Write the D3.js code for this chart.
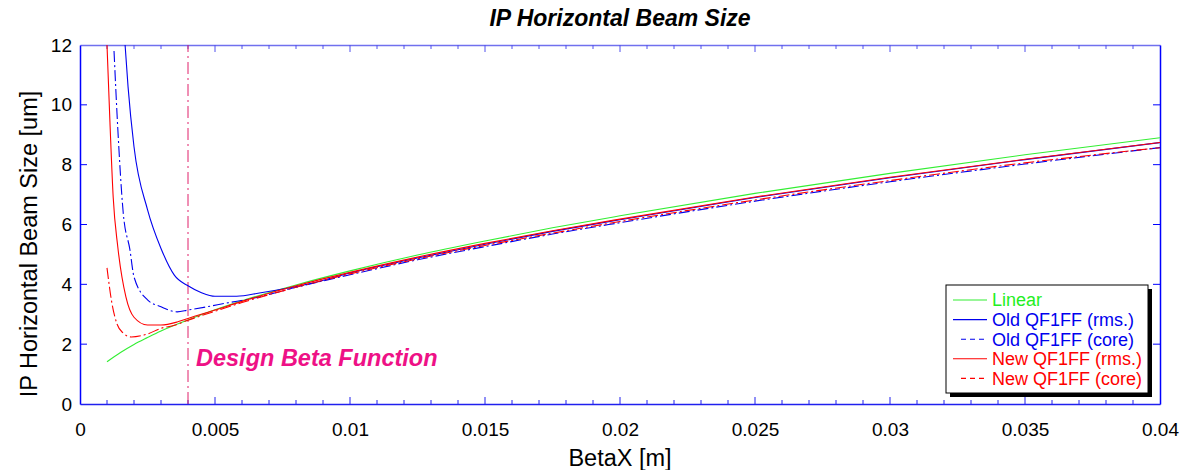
<!DOCTYPE html>
<html>
<head>
<meta charset="utf-8">
<script src="https://cdn.jsdelivr.net/npm/d3@7"></script>
<style>
  body { margin: 0; background: #fff; }
  svg { font-family: "Liberation Sans", Arial, sans-serif; }
</style>
</head>
<body>
<div id="chart"></div>
<script>
// Data (beta in m, beam size in um)
const linearBeta = [0.001, 0.0015, 0.002, 0.0025, 0.003, 0.004, 0.005, 0.006, 0.008, 0.01, 0.0125, 0.015, 0.0175, 0.02, 0.025, 0.03, 0.035, 0.04];
const linearSize = [1.41, 1.72, 1.99, 2.22, 2.44, 2.81, 3.15, 3.45, 3.98, 4.45, 4.98, 5.45, 5.89, 6.29, 7.04, 7.71, 8.33, 8.90];

const oldRmsBeta = [0.00167, 0.00178, 0.002, 0.0025, 0.003, 0.0035, 0.004, 0.0045, 0.005, 0.0058, 0.0067, 0.0085, 0.01, 0.0125, 0.015, 0.0175, 0.02, 0.025, 0.03, 0.035, 0.04];
const oldRmsSize = [12, 10.6, 8.6, 6.5, 5.2, 4.3, 3.95, 3.72, 3.6, 3.6, 3.72, 4.02, 4.38, 4.88, 5.34, 5.77, 6.16, 6.9, 7.56, 8.17, 8.74];

const oldCoreBeta = [0.00126, 0.0014, 0.0016, 0.00185, 0.002, 0.0025, 0.003, 0.0036, 0.004, 0.0047, 0.0054, 0.0065, 0.008, 0.01, 0.0125, 0.015, 0.0175, 0.02, 0.025, 0.03, 0.035, 0.04];
const oldCoreSize = [11.8, 9.2, 6.4, 5.15, 4.25, 3.48, 3.25, 3.08, 3.14, 3.25, 3.37, 3.55, 3.9, 4.32, 4.82, 5.26, 5.68, 6.06, 6.78, 7.43, 8.02, 8.57];

const newRmsBeta = [0.001, 0.00111, 0.00123, 0.0014, 0.0017, 0.002, 0.0025, 0.003, 0.0036, 0.004, 0.005, 0.006, 0.008, 0.01, 0.0125, 0.015, 0.0175, 0.02, 0.025, 0.03, 0.035, 0.04];
const newRmsSize = [12, 9.4, 6.9, 5.25, 3.58, 2.9, 2.64, 2.64, 2.74, 2.86, 3.14, 3.43, 3.95, 4.4, 4.91, 5.37, 5.79, 6.18, 6.92, 7.58, 8.18, 8.74];

const newCoreBeta = [0.001, 0.00118, 0.00136, 0.0016, 0.0019, 0.0025, 0.003, 0.0035, 0.004, 0.005, 0.006, 0.008, 0.01, 0.0125, 0.015, 0.0175, 0.02, 0.025, 0.03, 0.035, 0.04];
const newCoreSize = [4.55, 3.38, 2.7, 2.37, 2.24, 2.34, 2.53, 2.63, 2.8, 3.1, 3.39, 3.9, 4.35, 4.85, 5.3, 5.71, 6.1, 6.82, 7.47, 8.06, 8.57];

const designBeta = 0.004;

const xTickValues = [0, 0.005, 0.01, 0.015, 0.02, 0.025, 0.03, 0.035, 0.04];
const xTickLabels = ['0', '0.005', '0.01', '0.015', '0.02', '0.025', '0.03', '0.035', '0.04'];
const yTickValues = [0, 2, 4, 6, 8, 10, 12];

const series = [
    { name: 'Linear', beta: linearBeta, size: linearSize, color: '#33ee33', dash: null },
    { name: 'Old QF1FF (rms.)', beta: oldRmsBeta, size: oldRmsSize, color: '#0000ee', dash: null },
    { name: 'Old QF1FF (core)', beta: oldCoreBeta, size: oldCoreSize, color: '#0000ee', dash: '11,3,2,3' },
    { name: 'New QF1FF (rms.)', beta: newRmsBeta, size: newRmsSize, color: '#ff0000', dash: null },
    { name: 'New QF1FF (core)', beta: newCoreBeta, size: newCoreSize, color: '#ff0000', dash: '11,3,2,3' }
];

const width = 1180;
const height = 470;
const margin = { top: 45, right: 20, bottom: 66, left: 80 };

const svg = d3.select('#chart')
    .append('svg')
    .attr('width', width)
    .attr('height', height);

const x = d3.scaleLinear()
    .domain([0, 0.04])
    .range([margin.left, width - margin.right]);

const y = d3.scaleLinear()
    .domain([0, 12])
    .range([height - margin.bottom, margin.top]);

// Clip curves to the plot area
svg.append('clipPath')
    .attr('id', 'plotClip')
    .append('rect')
    .attr('x', x(0))
    .attr('y', y(12))
    .attr('width', x(0.04) - x(0))
    .attr('height', y(0) - y(12));

// Title
svg.append('text')
    .attr('x', 620)
    .attr('y', 26)
    .attr('text-anchor', 'middle')
    .style('font-size', '23px')
    .style('font-weight', 'bold')
    .style('font-style', 'italic')
    .text('IP Horizontal Beam Size');

// Axes (ticks inside, box all round)
const minorX = d3.range(0, 0.0401, 0.001);
const axisColor = '#2020ee';

const axBottom = svg.append('g')
    .attr('transform', `translate(0,${y(0)})`)
    .call(d3.axisBottom(x).tickValues(xTickValues).tickSize(0).tickPadding(19)
        .tickFormat((d, i) => xTickLabels[i]));
axBottom.select('.domain').attr('stroke', axisColor).attr('stroke-width', 1.5);
axBottom.selectAll('text').style('font-size', '19px').attr('fill', '#000');

const axTop = svg.append('g')
    .attr('transform', `translate(0,${y(12)})`)
    .call(d3.axisTop(x).tickValues([]).tickSize(0));
axTop.select('.domain').attr('stroke', '#7070ee').attr('stroke-width', 1.5);

const axLeft = svg.append('g')
    .attr('transform', `translate(${x(0)},0)`)
    .call(d3.axisLeft(y).tickValues(yTickValues).tickSize(0).tickPadding(8));
axLeft.select('.domain').attr('stroke', '#0000ff').attr('stroke-width', 1.5);
axLeft.selectAll('text').style('font-size', '19px').attr('fill', '#000');

const axRight = svg.append('g')
    .attr('transform', `translate(${x(0.04)},0)`)
    .call(d3.axisRight(y).tickValues([]).tickSize(0));
axRight.select('.domain').attr('stroke', '#0000ff').attr('stroke-width', 1.5);

// Tick marks pointing inward
const isMajor = d => Math.abs(d / 0.005 - Math.round(d / 0.005)) < 1e-6;
svg.append('g').selectAll('line')
    .data(minorX.filter(d => d > 0 && d < 0.04))
    .join('line')
    .attr('x1', d => x(d)).attr('x2', d => x(d))
    .attr('y1', y(0)).attr('y2', d => y(0) - (isMajor(d) ? 7 : 4))
    .attr('stroke', axisColor);
svg.append('g').selectAll('line')
    .data(minorX.filter(d => d > 0 && d < 0.04))
    .join('line')
    .attr('x1', d => x(d)).attr('x2', d => x(d))
    .attr('y1', y(12)).attr('y2', d => y(12) + (isMajor(d) ? 7 : 4))
    .attr('stroke', '#5050ee');
svg.append('g').selectAll('line')
    .data(yTickValues.filter(d => d > 0 && d < 12))
    .join('line')
    .attr('x1', x(0)).attr('x2', x(0) + 7)
    .attr('y1', d => y(d)).attr('y2', d => y(d))
    .attr('stroke', '#0000ff');
svg.append('g').selectAll('line')
    .data(yTickValues.filter(d => d > 0 && d < 12))
    .join('line')
    .attr('x1', x(0.04)).attr('x2', x(0.04) - 7)
    .attr('y1', d => y(d)).attr('y2', d => y(d))
    .attr('stroke', '#0000ff');

// Axis titles
svg.append('text')
    .attr('x', 620)
    .attr('y', 466)
    .attr('text-anchor', 'middle')
    .style('font-size', '23.5px')
    .text('BetaX [m]');

svg.append('text')
    .attr('transform', 'translate(37,244) rotate(-90)')
    .attr('text-anchor', 'middle')
    .style('font-size', '23.5px')
    .text('IP Horizontal Beam Size [um]');

// Design beta line
svg.append('line')
    .attr('x1', x(designBeta)).attr('x2', x(designBeta))
    .attr('y1', y(0)).attr('y2', y(12))
    .attr('stroke', '#e0206a')
    .attr('stroke-width', 1)
    .attr('stroke-dasharray', '12,4,2,4');

svg.append('text')
    .attr('x', x(designBeta) + 8)
    .attr('y', 366)
    .attr('fill', '#ee1186')
    .style('font-size', '23.5px')
    .style('font-weight', 'bold')
    .style('font-style', 'italic')
    .text('Design Beta Function');

// Curves
const line = d3.line()
    .x(d => x(d[0]))
    .y(d => y(d[1]))
    .curve(d3.curveMonotoneX);

svg.append('g')
    .attr('clip-path', 'url(#plotClip)')
    .selectAll('path')
    .data(series)
    .join('path')
    .attr('d', s => line(s.beta.map((b, i) => [b, s.size[i]])))
    .attr('fill', 'none')
    .attr('stroke', s => s.color)
    .attr('stroke-width', 1.1)
    .attr('stroke-dasharray', s => s.dash);

// Legend
const lg = svg.append('g').attr('transform', 'translate(946,285)');
lg.append('rect')
    .attr('x', 4).attr('y', 4)
    .attr('width', 202).attr('height', 108)
    .attr('fill', '#000');
lg.append('rect')
    .attr('x', 0).attr('y', 0)
    .attr('width', 202).attr('height', 108)
    .attr('fill', '#fff')
    .attr('stroke', '#000')
    .attr('stroke-width', 1);

const rows = lg.selectAll('g.row')
    .data(series)
    .join('g')
    .attr('class', 'row')
    .attr('transform', (d, i) => `translate(0,${15 + i * 19.6})`);
rows.append('line')
    .attr('x1', d => d.dash ? 15 : 7).attr('x2', 41)
    .attr('y1', 0).attr('y2', 0)
    .attr('stroke', d => d.color)
    .attr('stroke-width', 1.1)
    .attr('stroke-dasharray', d => d.dash ? '5,4' : null);
rows.append('text')
    .attr('x', 46)
    .attr('y', 0)
    .attr('dy', '0.36em')
    .attr('fill', d => d.color === '#33ee33' ? '#22ee22' : d.color)
    .style('font-size', '18px')
    .text(d => d.name);
</script>
</body>
</html>
